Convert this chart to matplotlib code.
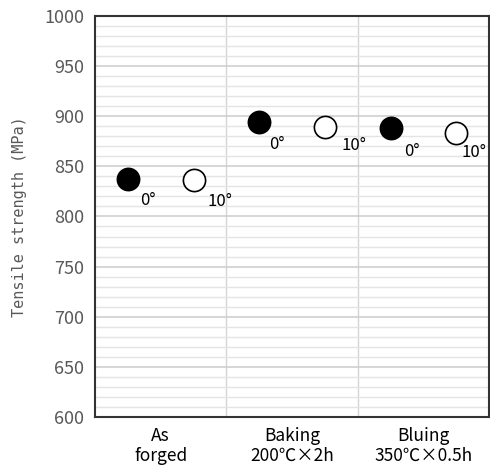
import numpy as np
import matplotlib.pyplot as plt

plt.rcParams['font.family'] = ['Noto Sans CJK JP', 'DejaVu Sans']
mono = ['DejaVu Sans Mono', 'Noto Sans CJK JP']

groups = ['As\nforged', 'Baking\n200℃×2h', 'Bluing\n350℃×0.5h']
angles = ['0°', '10°']
strength_0 = [837, 894, 888]
strength_10 = [836, 889, 883]

# label nudges (points) as placed in the original
off_0 = [(9, -15), (7, -16), (10, -17)]
off_10 = [(10, -15), (12, -13), (4, -14)]

fig, ax = plt.subplots(figsize=(4.9, 4.68), dpi=100)
fig.subplots_adjust(left=0.194, right=0.998, top=0.966, bottom=0.109)

ax.set_xlim(0, 3)
ax.set_ylim(600, 1000)

# grid: minor every 10, major every 50
ax.set_yticks(np.arange(600, 1001, 50))
ax.set_yticks(np.arange(600, 1001, 10), minor=True)
ax.grid(True, axis='y', which='minor', color='#e4e4e4', lw=1.0)
ax.grid(True, axis='y', which='major', color='#cfcfcf', lw=1.2)
ax.tick_params(axis='y', which='both', length=0, labelsize=13, labelcolor='#595959', pad=8)
ax.set_axisbelow(True)

for sep in [1, 2]:
    ax.axvline(sep, color='#d4d4d4', lw=1.0, zorder=0.5)

x = np.arange(len(groups))
ax.set_xticks(x + 0.5)
ax.set_xticklabels(groups, fontsize=12.5, linespacing=1.15)
ax.tick_params(axis='x', length=0, pad=7)

ax.plot(x + 0.25, strength_0, 'o', ms=16, mfc='black', mec='black', mew=1.2, zorder=3)
ax.plot(x + 0.75, strength_10, 'o', ms=16, mfc='white', mec='black', mew=1.2, zorder=3)

for xi, v, o in zip(x + 0.25, strength_0, off_0):
    ax.annotate(angles[0], (xi, v), xytext=o, textcoords='offset points',
                fontsize=12, ha='left', va='center')
for xi, v, o in zip(x + 0.75, strength_10, off_10):
    ax.annotate(angles[1], (xi, v), xytext=o, textcoords='offset points',
                fontsize=12, ha='left', va='center')

ax.set_ylabel('Tensile strength (MPa)', fontsize=11, color='#595959', labelpad=12, family=mono)

for s in ax.spines.values():
    s.set_color('#333333')
    s.set_linewidth(1.5)

plt.savefig('out.png', dpi=100)
